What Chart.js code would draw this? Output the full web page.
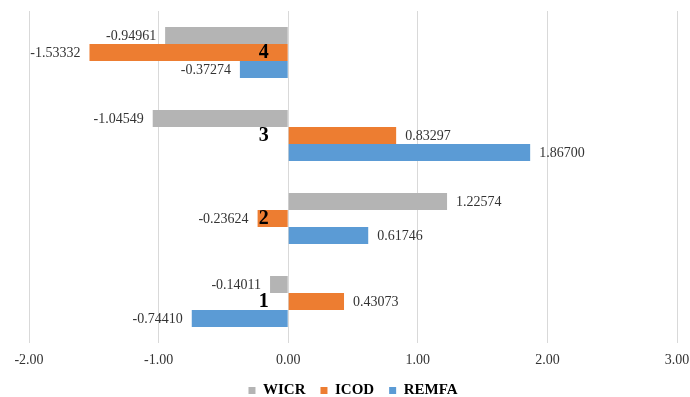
<!DOCTYPE html>
<html>
<head>
<meta charset="utf-8">
<script src="https://cdn.jsdelivr.net/npm/chart.js@4/dist/chart.umd.min.js"></script>
<style>
  html, body { margin: 0; padding: 0; background: #ffffff; }
  #wrap { width: 690px; height: 397px; position: relative; }
</style>
</head>
<body>
<div id="wrap"><canvas id="chart"></canvas></div>
<script>
// Groups listed top to bottom
const categories = ['4', '3', '2', '1'];
const seriesNames = ['WICR', 'ICOD', 'REMFA'];
const wicr  = [-0.94961, -1.04549,  1.22574, -0.14011];
const icod  = [-1.53332,  0.83297, -0.23624,  0.43073];
const remfa = [-0.37274,  1.86700,  0.61746, -0.74410];
const xTicks = [-2, -1, 0, 1, 2, 3];

const colors = ['#b4b4b4', '#ed7d31', '#5b9bd5'];
const serif = "'Liberation Serif', 'Times New Roman', serif";

// Writes each bar's value just beyond its end
const valueLabels = {
  id: 'valueLabels',
  afterDatasetsDraw(chart) {
    const ctx = chart.ctx;
    ctx.save();
    ctx.font = '14px ' + serif;
    ctx.fillStyle = '#333333';
    ctx.textBaseline = 'middle';
    chart.data.datasets.forEach((ds, di) => {
      const meta = chart.getDatasetMeta(di);
      meta.data.forEach((bar, i) => {
        const v = ds.data[i];
        const text = v.toFixed(5);
        if (v >= 0) {
          ctx.textAlign = 'left';
          ctx.fillText(text, bar.x + 9, bar.y + 1);
        } else {
          ctx.textAlign = 'right';
          ctx.fillText(text, bar.x - 9, bar.y + 1);
        }
      });
    });
    ctx.restore();
  }
};

new Chart(document.getElementById('chart'), {
  type: 'bar',
  data: {
    labels: categories,
    datasets: [wicr, icod, remfa].map((vals, k) => ({
      label: seriesNames[k],
      data: vals,
      backgroundColor: colors[k],
      borderWidth: 0,
      categoryPercentage: 0.615,
      barPercentage: 1
    }))
  },
  options: {
    indexAxis: 'y',
    responsive: true,
    maintainAspectRatio: false,
    animation: false,
    layout: { padding: { left: 29, right: 13, top: 11, bottom: -11 } },
    scales: {
      x: {
        type: 'linear',
        min: xTicks[0],
        max: xTicks[xTicks.length - 1],
        afterBuildTicks(scale) {
          scale.ticks = xTicks.map(v => ({ value: v }));
        },
        afterFit(scale) {
          scale.paddingLeft = 0;
          scale.paddingRight = 0;
          scale.height = 25;
        },
        grid: { color: '#d9d9d9', lineWidth: 1, drawTicks: false },
        border: { display: false },
        ticks: {
          padding: 9,
          color: '#333333',
          font: { family: serif, size: 14 },
          callback: v => Number(v).toFixed(2)
        }
      },
      y: {
        type: 'category',
        // category labels sit just left of the zero line, above the bars
        position: { x: -0.15 },
        afterFit(scale) {
          scale.paddingTop = 0;
          scale.paddingBottom = 0;
        },
        grid: { display: false },
        border: { display: false },
        ticks: {
          z: 1,
          padding: 0,
          color: '#000000',
          font: { family: serif, size: 20, weight: 'bold' }
        }
      }
    },
    plugins: {
      legend: {
        position: 'bottom',
        labels: {
          boxWidth: 7,
          boxHeight: 7,
          padding: 15,
          color: '#000000',
          font: { family: serif, size: 15, weight: 'bold' }
        }
      },
      tooltip: { enabled: false }
    }
  },
  plugins: [valueLabels]
});
</script>
</body>
</html>
